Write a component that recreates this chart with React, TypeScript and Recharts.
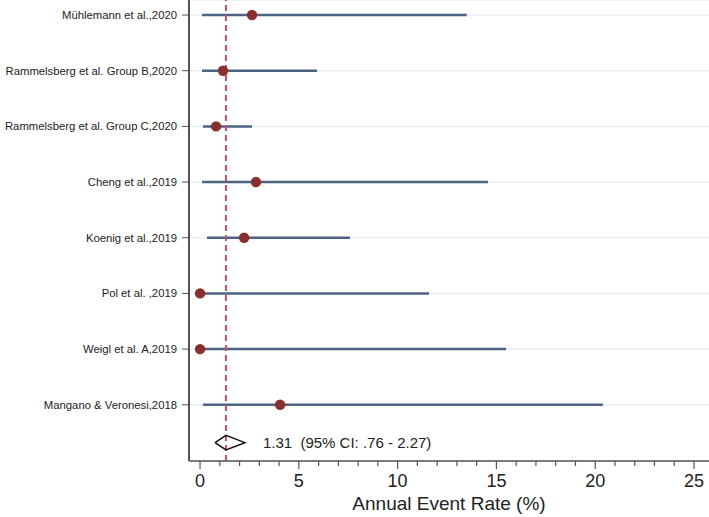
import React from 'react';
import {
  ScatterChart,
  Scatter,
  XAxis,
  YAxis,
  CartesianGrid,
  ReferenceLine,
  Label,
} from 'recharts';

const studies = [
  'Mühlemann et al.,2020',
  'Rammelsberg et al. Group B,2020',
  'Rammelsberg et al. Group C,2020',
  'Cheng et al.,2019',
  'Koenig et al.,2019',
  'Pol et al. ,2019',
  'Weigl et al. A,2019',
  'Mangano & Veronesi,2018',
];
const rates = [2.63, 1.16, 0.81, 2.83, 2.23, 0, 0, 4.05];
const lower = [0.1, 0.1, 0.15, 0.1, 0.35, 0, 0, 0.15];
const upper = [13.5, 5.92, 2.63, 14.57, 7.59, 11.59, 15.49, 20.39];

const pooled = { est: 1.31, lo: 0.76, hi: 2.27 };
const pooledText = '1.31  (95% CI: .76 - 2.27)';
const pooledRow = 7.68;
const diamondHalf = 0.13;

const xTicks = [0, 1, 2, 3, 4, 5, 6, 7, 8, 9, 10, 11, 12, 13, 14, 15, 16, 17, 18, 19, 20, 21, 22, 23, 24, 25];
const rowTicks = studies.map((_, i) => i);

const points = studies.map((name, i) => ({ name, x: rates[i], y: i }));
const diamond = [
  { x: pooled.lo, y: pooledRow },
  { x: pooled.est, y: pooledRow - diamondHalf },
  { x: pooled.hi, y: pooledRow },
  { x: pooled.est, y: pooledRow + diamondHalf },
  { x: pooled.lo, y: pooledRow },
];

const FONT = '"Liberation Sans", Arial, Helvetica, sans-serif';

const XTick = (props: any) => {
  const { x, y, payload } = props;
  const major = payload.value % 5 === 0;
  return (
    <g>
      <line x1={x} x2={x} y1={y} y2={y + (major ? 8 : 5)} stroke="#555" strokeWidth={1.2} />
      {major && (
        <text x={x} y={y + 26} textAnchor="middle" fontSize={18} fill="#222" fontFamily={FONT}>
          {payload.value}
        </text>
      )}
    </g>
  );
};

const YTick = (props: any) => {
  const { x, y, payload } = props;
  return (
    <text x={x} y={y} textAnchor="end" dominantBaseline="central" fontSize={11.3} fill="#222" fontFamily={FONT}>
      {studies[payload.value]}
    </text>
  );
};

export default function App() {
  return (
    <div style={{ position: 'absolute', left: 0, top: 0, width: 709, height: 517, background: '#fff' }}>
      <ScatterChart width={709} height={517} margin={{ top: 0, right: 0, bottom: 0, left: 0 }}>
        <CartesianGrid vertical={false} stroke="#e9eef3" strokeWidth={1.5} />
        <XAxis
          type="number"
          dataKey="x"
          domain={[-0.56, 25.76]}
          ticks={xTicks}
          interval={0}
          allowDataOverflow
          height={56}
          tickSize={0}
          tickMargin={0}
          tickLine={false}
          tick={<XTick />}
          axisLine={{ stroke: '#555', strokeWidth: 1.5 }}
        >
          <Label
            value="Annual Event Rate (%)"
            position="insideBottom"
            offset={7}
            style={{ fontSize: 19, fill: '#222', fontFamily: FONT }}
          />
        </XAxis>
        <YAxis
          type="number"
          dataKey="y"
          reversed
          domain={[-0.27, 8.01]}
          allowDataOverflow
          ticks={rowTicks}
          interval={0}
          width={189}
          tickSize={7}
          tickMargin={5}
          tick={<YTick />}
          tickLine={{ stroke: '#555' }}
          axisLine={{ stroke: '#555', strokeWidth: 2 }}
        />
        {studies.map((s, i) => (
          <ReferenceLine
            key={s}
            segment={[
              { x: lower[i], y: i },
              { x: upper[i], y: i },
            ]}
            stroke="#4d6384"
            strokeWidth={2.5}
          />
        ))}
        <ReferenceLine x={pooled.est} stroke="#c4506c" strokeWidth={2} strokeDasharray="6 4" />
        <Scatter
          data={diamond}
          isAnimationActive={false}
          line={{ stroke: '#111', strokeWidth: 1.5 }}
          lineJointType="linear"
          shape={() => <g />}
          fill="none"
        />
        <Scatter
          data={points}
          isAnimationActive={false}
          fill="#8b2e2e"
          shape={(p: any) => <circle cx={p.cx} cy={p.cy} r={5.2} fill="#8b2e2e" />}
        />
        <Scatter
          data={[{ x: pooled.hi, y: pooledRow }]}
          isAnimationActive={false}
          shape={(p: any) => (
            <text
              x={p.cx + 18}
              y={p.cy}
              dominantBaseline="central"
              fontSize={15}
              fill="#222"
              fontFamily={FONT}
              xmlSpace="preserve"
              style={{ whiteSpace: 'pre' }}
            >
              {pooledText}
            </text>
          )}
        />
      </ScatterChart>
    </div>
  );
}
